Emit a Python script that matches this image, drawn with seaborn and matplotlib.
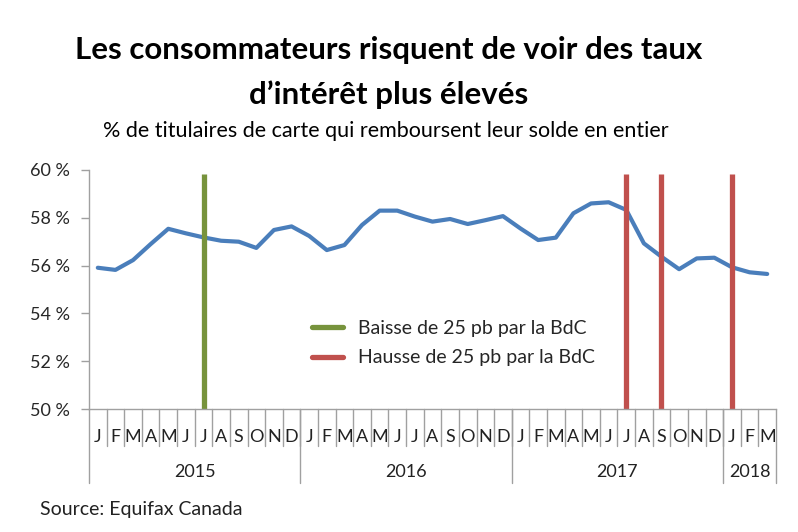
import numpy as np
import pandas as pd
import seaborn as sns
import matplotlib.pyplot as plt
from matplotlib.lines import Line2D

# === Data ===
months = list("JFMAMJJASOND") * 3 + list("JFM")
years = ["2015", "2016", "2017", "2018"]
year_lengths = [12, 12, 12, 3]
share_paid = [55.91, 55.82, 56.23, 56.90, 57.54, 57.35, 57.18, 57.04, 57.00, 56.74, 57.49, 57.64,
              57.24, 56.65, 56.86, 57.70, 58.30, 58.30, 58.05, 57.84, 57.95, 57.74, 57.90, 58.07,
              57.55, 57.07, 57.17, 58.19, 58.60, 58.65, 58.33, 56.93, 56.37, 55.85, 56.30, 56.33,
              55.93, 55.72, 55.65]
cut_months = [6]            # index of month (Jul 2015)
hike_months = [30, 32, 36]  # Jul 2017, Sep 2017, Jan 2018
bar_top = 59.85

df = pd.DataFrame({"idx": np.arange(len(share_paid)), "share": share_paid})

# === Style ===
sns.set_theme(style="white")
plt.rcParams['font.family'] = ['Lato', 'DejaVu Sans']

fig = plt.figure(figsize=(7.98, 5.32), dpi=100, facecolor="white")
ax = fig.add_axes([89 / 798, 1 - 409 / 532, 687 / 798, 239 / 532])

sns.lineplot(data=df, x="idx", y="share", ax=ax, color="#4A7EBB", linewidth=3)

green = "#77933C"
red = "#C0504D"
ax.vlines(cut_months, 50, bar_top, color=green, linewidth=3.8)
ax.vlines(hike_months, 50, bar_top, color=red, linewidth=3.8)

ax.set_xlim(-0.5, len(share_paid) - 0.5)
ax.set_ylim(50, 60)
ax.set_yticks([50, 52, 54, 56, 58, 60])
ax.set_yticklabels([f"{v} %" for v in [50, 52, 54, 56, 58, 60]], fontsize=13)
ax.set_xticks([])
ax.set_xlabel("")
ax.set_ylabel("")
ax.tick_params(axis="y", which="major", left=True, length=6, width=1, color="#A0A0A0", pad=8)

for s in ["top", "right"]:
    ax.spines[s].set_visible(False)
for s in ["left", "bottom"]:
    ax.spines[s].set_color("#A0A0A0")
    ax.spines[s].set_linewidth(1)

# === Excel-style category axis ===
trans = ax.get_xaxis_transform()
month_depth = -37 / 239
year_depth = -74 / 239
for i, m in enumerate(months):
    ax.text(i, -28 / 239, m, transform=trans, ha="center", va="center", fontsize=13, color="#222222")
    if i > 0:
        ax.add_line(Line2D([i - 0.5, i - 0.5], [0, month_depth], transform=trans,
                           color="#A0A0A0", linewidth=1, clip_on=False))

start = 0
bounds = [0]
for y, n in zip(years, year_lengths):
    ax.text(start + n / 2 - 0.5, -63 / 239, y, transform=trans, ha="center", va="center",
            fontsize=13, color="#222222")
    start += n
    bounds.append(start)
for b in bounds:
    ax.add_line(Line2D([b - 0.5, b - 0.5], [0, year_depth], transform=trans,
                       color="#A0A0A0", linewidth=1, clip_on=False))

# === Legend ===
handles = [Line2D([], [], color=green, linewidth=3.8),
           Line2D([], [], color=red, linewidth=3.8)]
ax.legend(handles, ["Baisse de 25 pb par la BdC", "Hausse de 25 pb par la BdC"],
          loc="center left", bbox_to_anchor=(0.31, 0.276), frameon=False, fontsize=14,
          handlelength=1.6, handletextpad=0.8, labelspacing=0.65, borderpad=0)

# === Titles ===
fig.text(0.4875, 1 - 50 / 532, "Les consommateurs risquent de voir des taux",
         ha="center", va="center", fontsize=22.5, fontweight="bold", color="black")
fig.text(0.4875, 1 - 95 / 532, "d\u2019intérêt plus élevés",
         ha="center", va="center", fontsize=22.5, fontweight="bold", color="black")
fig.text(0.483, 1 - 131 / 532, "% de titulaires de carte qui remboursent leur solde en entier",
         ha="center", va="center", fontsize=15.5, color="black")
fig.text(40 / 798, 1 - 510 / 532, "Source: Equifax Canada", ha="left", va="center",
         fontsize=14, color="#222222")

plt.savefig("out.png", dpi=100, facecolor="white")
